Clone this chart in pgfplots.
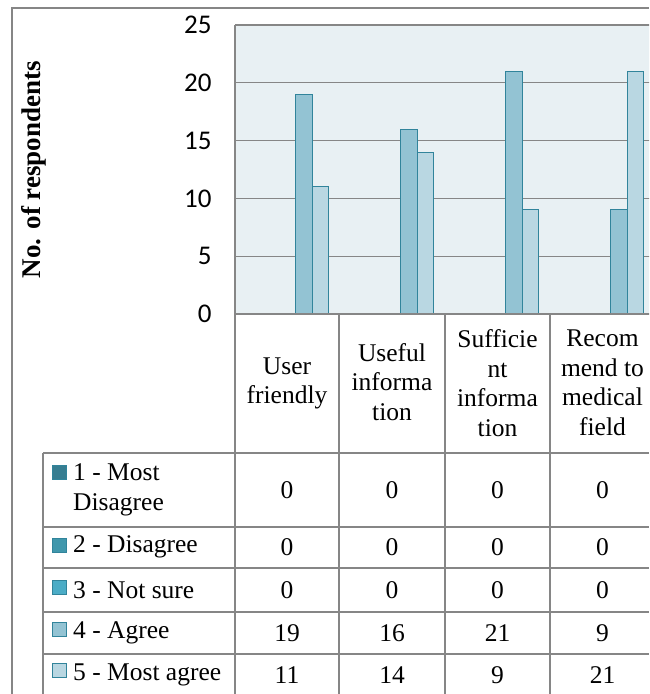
\documentclass[border=0pt]{standalone}
\usepackage{pgfplots}
\pgfplotsset{compat=1.18}
\usepackage{fontspec}
\setmainfont{Liberation Serif}
\newfontfamily\calib{Carlito}
\definecolor{cA}{HTML}{367D91}
\definecolor{cB}{HTML}{4097AC}
\definecolor{cC}{HTML}{4BACC6}
\definecolor{cD}{HTML}{93C3D3}
\definecolor{cE}{HTML}{B9D7E2}
\definecolor{edge}{HTML}{31849B}
\definecolor{plotbg}{HTML}{E8F0F3}
\definecolor{gridc}{HTML}{868686}
\newcommand{\tf}{\fontsize{25.5}{29.5}\selectfont}
\begin{document}
\begin{tikzpicture}[x=1pt,y=1pt]
\useasboundingbox (0,0) rectangle (649,694);
\begin{scope}
\clip (0,0) rectangle (649,694);
\fill[white] (0,0) rectangle (649,694);
\begin{axis}[
  at={(235pt,380pt)}, anchor=south west,
  scale only axis, width=420pt, height=289pt,
  xmin=-0.5, xmax=3.5, ymin=0, ymax=25,
  ytick={0,5,...,25}, xtick=\empty,
  ybar=0pt, bar width=16.5pt,
  axis line style={draw=none},
  axis background/.style={fill=plotbg},
  ymajorgrids, grid style={gridc, line width=1.3pt},
  major tick length=0pt,
  yticklabel style={font=\calib\fontsize{27}{31}\selectfont, xshift=-20pt},
  /pgf/number format/assume math mode=true,
  clip=false,
]
\addplot[fill=cA, draw=edge, line width=1pt] coordinates {(0,0) (1,0) (2,0) (3,0)};
\addplot[fill=cB, draw=edge, line width=1pt] coordinates {(0,0) (1,0) (2,0) (3,0)};
\addplot[fill=cC, draw=edge, line width=1pt] coordinates {(0,0) (1,0) (2,0) (3,0)};
\addplot[fill=cD, draw=edge, line width=1pt] coordinates {(0,19) (1,16) (2,21) (3,9)};
\addplot[fill=cE, draw=edge, line width=1pt] coordinates {(0,11) (1,14) (2,9) (3,21)};
\end{axis}
% plot area border
\draw[gridc, line width=1pt] (235,669) -- (649,669);
\draw[gridc, line width=2.2pt] (235,380) -- (649,380);
% outer frame
\draw[gridc, line width=2.5pt] (12,0) -- (12,686) -- (649,686);
% table lines
\draw[gridc, line width=1.1pt] (235,669) -- (235,0);
\foreach \xx in {339,445,550} \draw[gridc, line width=1.3pt] (\xx,380) -- (\xx,0);
\draw[gridc, line width=1.1pt] (43,241) -- (43,0);
\foreach \yy in {241,167,126,82,40} \draw[gridc, line width=1.1pt] (43,\yy) -- (649,\yy);
% y label
\node[rotate=90, anchor=base, font=\fontsize{27}{31}\selectfont\bfseries] at (40,524.5) {No. of respondents};
% category labels
\node[align=center, font=\tf] at (287,310.5) {User\\friendly};
\node[align=center, font=\tf] at (392,312) {Useful\\informa\\tion};
\node[align=center, font=\tf] at (497.5,311) {Sufficie\\nt\\informa\\tion};
\node[align=center, font=\tf] at (602.5,311) {Recom\\mend to\\medical\\field};
% legend keys
\foreach \c/\yc in {cA/472, cB/545, cC/587, cD/629, cE/670}
  \filldraw[fill=\c, draw=edge, line width=0.8pt] (52,694-\yc-7) rectangle (66,694-\yc+7);
% legend text
\node[anchor=west, align=left, font=\tf, inner sep=0pt] at (73,204) {1 - Most\\Disagree};
\node[anchor=west, font=\tf, inner sep=0pt] at (73,147) {2 - Disagree};
\node[anchor=west, font=\tf, inner sep=0pt] at (73,104) {3 - Not sure};
\node[anchor=west, font=\tf, inner sep=0pt] at (73,61) {4 - Agree};
\node[anchor=west, font=\tf, inner sep=0pt] at (73,19) {5 - Most agree};
% values
\foreach \xc/\a/\b in {287/19/11, 392/16/14, 497.5/21/9, 602.5/9/21} {
  \node[font=\tf] at (\xc,204) {0};
  \node[font=\tf] at (\xc,147) {0};
  \node[font=\tf] at (\xc,104) {0};
  \node[font=\tf] at (\xc,61) {\a};
  \node[font=\tf] at (\xc,19) {\b};
}
\end{scope}
\end{tikzpicture}
\end{document}
